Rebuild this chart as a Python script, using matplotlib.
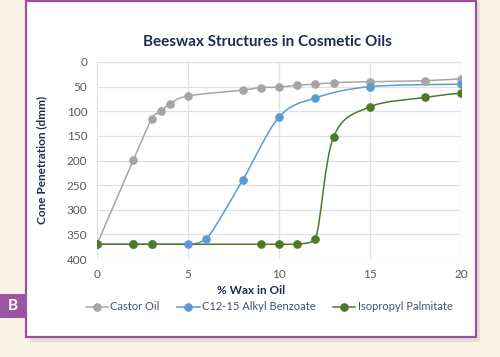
import numpy as np
import matplotlib
matplotlib.use("Agg")
import matplotlib.pyplot as plt
from matplotlib.path import Path
from matplotlib.patches import PathPatch, Rectangle
from matplotlib.lines import Line2D

plt.rcParams["font.family"] = ["Lato", "DejaVu Sans"]

# data
castor_x = [0, 2, 3, 3.5, 4, 5, 8, 9, 10, 11, 12, 13, 15, 18, 20]
castor_y = [370, 199, 116, 100, 85, 69, 57, 52, 51, 47, 45, 42, 40, 38, 34]

benzoate_x = [0, 2, 3, 5, 6, 8, 10, 12, 15, 20]
benzoate_y = [370, 370, 370, 370, 360, 240, 112, 73, 50, 45]

palmitate_x = [0, 2, 3, 9, 10, 11, 12, 13, 15, 18, 20]
palmitate_y = [370, 370, 370, 370, 370, 370, 360, 152, 91, 72, 63]

series_names = ["Castor Oil", "C12-15 Alkyl Benzoate", "Isopropyl Palmitate"]
series_colors = ["#a5a5a5", "#5b9bd5", "#4e7a27"]

x_ticks = [0, 5, 10, 15, 20]
y_ticks = [0, 50, 100, 150, 200, 250, 300, 350, 400]

text_col = "#44546a"
tick_col = "#595959"
label_col = "#1f2d4a"


def smooth_path(xs, ys):
    # Excel style smoothed line: cubic bezier segments, no overshoot
    pts = np.column_stack([xs, ys]).astype(float)
    n = len(pts)
    verts = [pts[0]]
    codes = [Path.MOVETO]
    for i in range(n - 1):
        p0 = pts[i - 1] if i > 0 else pts[i]
        p1 = pts[i]
        p2 = pts[i + 1]
        p3 = pts[i + 2] if i + 2 < n else pts[i + 1]
        c1 = p1 + (p2 - p0) / 6.0
        c2 = p2 - (p3 - p1) / 6.0
        lo, hi = min(p1[1], p2[1]), max(p1[1], p2[1])
        c1[1] = np.clip(c1[1], lo, hi)
        c2[1] = np.clip(c2[1], lo, hi)
        verts += [c1, c2, p2]
        codes += [Path.CURVE4] * 3
    return Path(verts, codes)


fig = plt.figure(figsize=(5, 3.57), dpi=100)
fig.patch.set_facecolor("#fdf4e8")

# panel shadow + white panel with purple border
fig.patches.append(Rectangle((30 / 500, 1 - 342 / 357), 450 / 500, 340 / 357,
                             transform=fig.transFigure, facecolor="#e9e0d3",
                             edgecolor="none", zorder=0))
fig.patches.append(Rectangle((26 / 500, 1 - 337 / 357), 450 / 500, 336 / 357,
                             transform=fig.transFigure, facecolor="white",
                             edgecolor="#9b4f9f", linewidth=1.6, zorder=1))
# "B" tag
fig.patches.append(Rectangle((0, 1 - 318 / 357), 27 / 500, 24 / 357,
                             transform=fig.transFigure, facecolor="#9b56a3",
                             edgecolor="none", zorder=2))
fig.text(13 / 500, 1 - 306 / 357, "B", color="white", fontsize=11,
         fontweight="bold", ha="center", va="center", zorder=3)

ax = fig.add_axes([97 / 500, 1 - 259 / 357, 364 / 500, 197 / 357])
ax.set_facecolor("white")
ax.set_zorder(2)

all_x = [castor_x, benzoate_x, palmitate_x]
all_y = [castor_y, benzoate_y, palmitate_y]
handles = []
for xs, ys, name, col in zip(all_x, all_y, series_names, series_colors):
    ax.add_patch(PathPatch(smooth_path(xs, ys), facecolor="none",
                           edgecolor=col, linewidth=1.1, zorder=3))
    ax.plot(xs, ys, linestyle="none", marker="o", markersize=5.2,
            color=col, zorder=4)
    handles.append(Line2D([], [], color=col, linewidth=1.1, marker="o",
                          markersize=5.2, label=name))

ax.set_xlim(0, 20)
ax.set_ylim(400, 0)
ax.set_xticks(x_ticks)
ax.set_yticks(y_ticks)
ax.grid(True, color="#dbe2ea", linewidth=0.9)
ax.set_axisbelow(True)
for s in ax.spines.values():
    s.set_visible(False)
ax.tick_params(length=0, labelsize=8.5, labelcolor=tick_col, pad=7)

fig.text(267 / 500, 1 - 42 / 357, "Beeswax Structures in Cosmetic Oils",
         fontsize=11, fontweight="bold", color=label_col,
         ha="center", va="center", zorder=3)
fig.text(251 / 500, 1 - 291 / 357, "% Wax in Oil", fontsize=8.5,
         fontweight="bold", color=label_col, ha="center", va="center", zorder=3)
fig.text(42 / 500, 1 - 160 / 357, "Cone Penetration (dmm)", fontsize=8.5,
         fontweight="bold", color=label_col, rotation=90,
         ha="center", va="center", zorder=3)

leg = fig.legend(handles=handles, loc="center", ncol=3,
                 bbox_to_anchor=(269 / 500, 1 - 307 / 357), frameon=False,
                 fontsize=8, handlelength=2.0, columnspacing=1.6,
                 handletextpad=0.2)
for t in leg.get_texts():
    t.set_color(text_col)
leg.set_zorder(3)

fig.savefig("out.png", dpi=100, facecolor=fig.get_facecolor())
